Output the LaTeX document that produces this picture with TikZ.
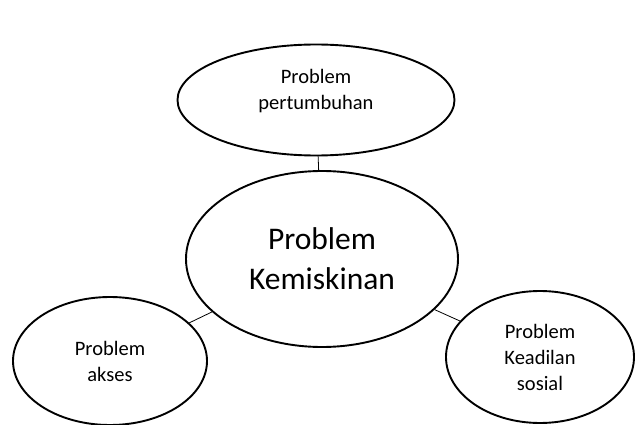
\documentclass[tikz,border=0pt]{standalone}
\usepackage{fontspec}
\setmainfont{Carlito}
\usetikzlibrary{shapes.geometric}
\tikzset{
    bubble/.style={ellipse,draw,line width=1.9pt,inner sep=0pt,align=center,
        font=\fontsize{20.5}{26}\selectfont},
    link/.style={line width=0.8pt}
}
\begin{document}
\begin{tikzpicture}[x=1pt,y=1pt]
        \useasboundingbox (0,0) rectangle (638,424);
        \node[bubble,minimum width=277pt,minimum height=111pt,text depth=22pt] (growth) at (316,324) {Problem\\pertumbuhan};
        \node[bubble,minimum width=272pt,minimum height=176pt,font=\fontsize{31.5}{40}\selectfont] (poverty) at (322,165) {Problem\\Kemiskinan};
        \node[bubble,minimum width=194pt,minimum height=128pt] (access) at (110,63) {Problem\\akses};
        \node[bubble,minimum width=188pt,minimum height=132pt] (justice) at (540,67) {Problem\\Keadilan\\sosial};
        \draw[link](growth)--(poverty);
        \draw[link](access)--(poverty);
        \draw[link](justice)--(poverty);
    \end{tikzpicture}
\end{document}
